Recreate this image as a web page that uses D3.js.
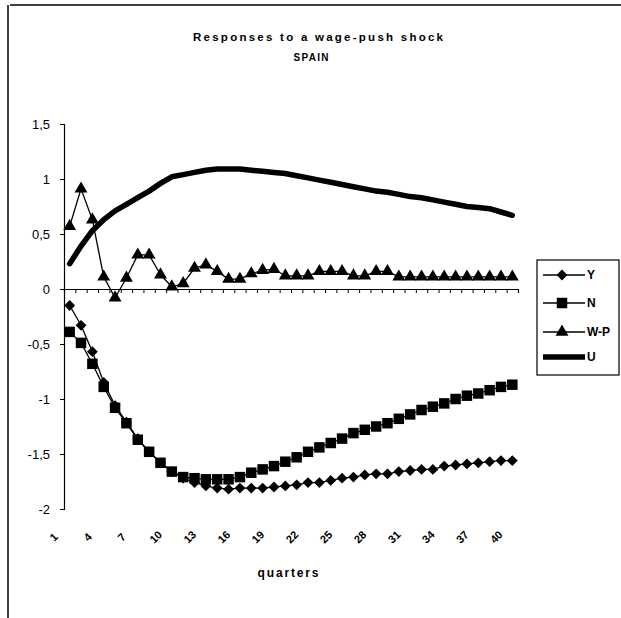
<!DOCTYPE html>
<html>
<head>
<meta charset="utf-8">
<script src="https://cdn.jsdelivr.net/npm/d3@7"></script>
<style>
  body { margin: 0; background: #fff; }
  svg { display: block; }
  text { font-family: "Liberation Sans", Arial, sans-serif; fill: #000; }
</style>
</head>
<body>
<svg id="chart" width="621" height="618"></svg>
<script>
// data
const quarters = [1,2,3,4,5,6,7,8,9,10,11,12,13,14,15,16,17,18,19,20,
                  21,22,23,24,25,26,27,28,29,30,31,32,33,34,35,36,37,38,39,40];
const tickLabels = [1,4,7,10,13,16,19,22,25,28,31,34,37,40];
const yTicks = [-2,-1.5,-1,-0.5,0,0.5,1,1.5];

const Y  = [-0.15,-0.33,-0.57,-0.85,-1.06,-1.21,-1.36,-1.48,-1.58,-1.66,
            -1.72,-1.76,-1.79,-1.81,-1.82,-1.81,-1.81,-1.81,-1.80,-1.79,
            -1.78,-1.76,-1.76,-1.74,-1.72,-1.71,-1.69,-1.68,-1.68,-1.66,
            -1.65,-1.64,-1.64,-1.61,-1.60,-1.59,-1.58,-1.57,-1.56,-1.56];
const N  = [-0.39,-0.49,-0.68,-0.89,-1.08,-1.22,-1.37,-1.48,-1.58,-1.66,
            -1.71,-1.72,-1.73,-1.73,-1.73,-1.71,-1.67,-1.64,-1.61,-1.57,
            -1.53,-1.48,-1.44,-1.40,-1.36,-1.31,-1.28,-1.25,-1.22,-1.18,
            -1.14,-1.10,-1.07,-1.04,-1.00,-0.97,-0.95,-0.92,-0.89,-0.87];
const WP = [0.57,0.91,0.63,0.11,-0.08,0.10,0.31,0.31,0.13,0.02,
            0.05,0.19,0.22,0.16,0.09,0.09,0.14,0.17,0.18,0.12,
            0.12,0.12,0.16,0.16,0.16,0.12,0.12,0.16,0.16,0.11,
            0.11,0.11,0.11,0.11,0.11,0.11,0.11,0.11,0.11,0.11];
const U  = [0.23,0.39,0.53,0.63,0.71,0.77,0.83,0.89,0.96,1.02,
            1.04,1.06,1.08,1.09,1.09,1.09,1.08,1.07,1.06,1.05,
            1.03,1.01,0.99,0.97,0.95,0.93,0.91,0.89,0.88,0.86,
            0.84,0.83,0.81,0.79,0.77,0.75,0.74,0.73,0.70,0.67];

const series = [
  {name: 'Y',   values: Y,  marker: 'diamond'},
  {name: 'N',   values: N,  marker: 'square'},
  {name: 'W-P', values: WP, marker: 'triangle'},
  {name: 'U',   values: U,  marker: null}
];

const svg = d3.select('#chart');
const plot = {left: 64, right: 518, top: 124, bottom: 509};

const x = d3.scaleBand().domain(quarters).range([plot.left, plot.right]);
const xEdge = d3.scaleLinear().domain([0.5, 40.5]).range([plot.left, plot.right]);
const y = d3.scaleLinear().domain([-2, 1.5]).range([plot.bottom, plot.top]);
const cx = q => x(q) + x.bandwidth() / 2;

// scanned page frame
svg.append('line').attr('x1', 10).attr('x2', 621).attr('y1', 5).attr('y2', 5)
  .attr('stroke', '#000').attr('stroke-width', 1.5);
svg.append('line').attr('x1', 8).attr('x2', 8).attr('y1', 5).attr('y2', 618)
  .attr('stroke', '#000').attr('stroke-width', 1.5);

// titles
svg.append('text').attr('x', 318).attr('y', 41).attr('text-anchor', 'middle')
  .attr('font-size', 11.5).attr('font-weight', 'bold')
  .attr('textLength', 250).attr('lengthAdjust', 'spacing')
  .text('Responses to a wage-push shock');
svg.append('text').attr('x', 311).attr('y', 61).attr('text-anchor', 'middle')
  .attr('font-size', 10).attr('font-weight', 'bold')
  .attr('textLength', 35).attr('lengthAdjust', 'spacing')
  .text('SPAIN');

// y axis
const yAxis = svg.append('g')
  .attr('transform', `translate(${plot.left},0)`)
  .call(d3.axisLeft(y).tickValues(yTicks).tickSize(4).tickPadding(10)
        .tickFormat(d => String(d).replace('.', ',')));
yAxis.select('.domain').attr('stroke-width', 1.2);
yAxis.selectAll('text').attr('font-size', 13).style('font-family', '"Liberation Sans", Arial, sans-serif');

// x axis through zero, ticks between categories
const xAxis = svg.append('g')
  .attr('transform', `translate(0,${y(0)})`)
  .call(d3.axisBottom(xEdge).tickValues(d3.range(0.5, 41, 1)).tickSize(4).tickFormat(''));
xAxis.select('.domain').attr('stroke-width', 1.2);

// rotated category labels at the bottom
svg.append('g').selectAll('text')
  .data(tickLabels)
  .join('text')
    .attr('transform', d => `translate(${cx(d) - 16},537) rotate(-45)`)
    .attr('text-anchor', 'middle')
    .attr('dy', '0.35em')
    .attr('font-size', 11)
    .attr('font-weight', 'bold')
    .text(d => d);

svg.append('text').attr('x', 288).attr('y', 577).attr('text-anchor', 'middle')
  .attr('font-size', 12).attr('font-weight', 'bold')
  .attr('textLength', 61).attr('lengthAdjust', 'spacing')
  .text('quarters');

// marker shapes
const symbolFor = {
  diamond: d3.symbol().type(d3.symbolDiamond2).size(75),
  square: d3.symbol().type(d3.symbolSquare).size(110),
  triangle: d3.symbol().type(d3.symbolTriangle).size(72)
};

const line = d3.line().x((d, i) => cx(quarters[i])).y(d => y(d));

series.forEach(s => {
  const g = svg.append('g');
  g.append('path')
    .attr('d', line(s.values))
    .attr('fill', 'none')
    .attr('stroke', '#000')
    .attr('stroke-width', s.marker ? 1.3 : 5.5)
    .attr('stroke-linejoin', 'round')
    .attr('stroke-linecap', 'round');
  if (s.marker) {
    g.selectAll('path.mk')
      .data(s.values)
      .join('path')
        .attr('class', 'mk')
        .attr('transform', (d, i) => `translate(${cx(quarters[i])},${y(d)})`)
        .attr('d', symbolFor[s.marker]())
        .attr('fill', '#000');
  }
});

// legend
const legend = svg.append('g').attr('transform', 'translate(537,260)');
legend.append('rect').attr('width', 82).attr('height', 115)
  .attr('fill', '#fff').attr('stroke', '#000').attr('stroke-width', 1.2);
const legendY = [15, 43, 72, 97];
series.forEach((s, i) => {
  const row = legend.append('g').attr('transform', `translate(0,${legendY[i]})`);
  row.append('line').attr('x1', 6).attr('x2', 48).attr('y1', 0).attr('y2', 0)
    .attr('stroke', '#000').attr('stroke-width', s.marker ? 1.3 : 5.5);
  if (s.marker) {
    row.append('path').attr('transform', 'translate(25,0)')
      .attr('d', symbolFor[s.marker]()).attr('fill', '#000');
  }
  row.append('text').attr('x', 50).attr('y', 0).attr('dy', '0.35em')
    .attr('font-size', 12).attr('font-weight', 'bold').text(s.name);
});
</script>
</body>
</html>
